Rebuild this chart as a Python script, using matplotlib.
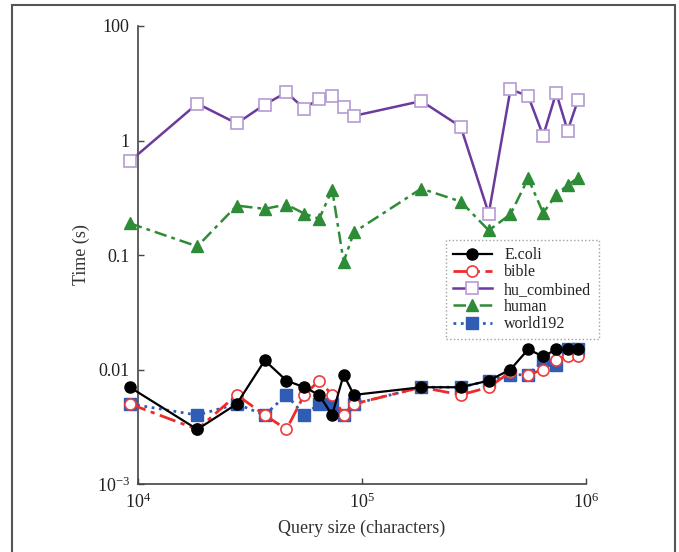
import matplotlib
matplotlib.use("Agg")
import matplotlib.pyplot as plt
from matplotlib.patches import Rectangle

plt.rcParams['font.family'] = ['Liberation Serif', 'DejaVu Serif']
plt.rcParams['mathtext.fontset'] = 'custom'
plt.rcParams['mathtext.rm'] = 'Liberation Serif'
plt.rcParams['mathtext.it'] = 'Liberation Serif:italic'

query_size = [9200, 18400, 27600, 36800, 46000, 55200, 64400, 73600, 82800, 92000,
              184000, 276000, 368000, 460000, 552000, 644000, 736000, 828000, 920000]

ecoli = [0.007, 0.003, 0.005, 0.012, 0.008, 0.007, 0.006, 0.004, 0.009, 0.006,
         0.007, 0.007, 0.008, 0.010, 0.015, 0.013, 0.015, 0.015, 0.015]
bible = [0.005, 0.003, 0.006, 0.004, 0.003, 0.006, 0.008, 0.006, 0.004, 0.005,
         0.007, 0.006, 0.007, 0.0095, 0.009, 0.010, 0.012, 0.013, 0.013]
hu_combined = [0.66, 2.10, 1.41, 2.06, 2.63, 1.90, 2.32, 2.45, 1.96, 1.64,
               2.21, 1.32, 0.23, 2.79, 2.45, 1.10, 2.61, 1.22, 2.24]
human = [0.189, 0.119, 0.270, 0.253, 0.276, 0.230, 0.207, 0.373, 0.087, 0.158,
         0.380, 0.293, 0.164, 0.227, 0.467, 0.233, 0.334, 0.409, 0.470]
world192 = [0.005, 0.004, 0.005, 0.004, 0.006, 0.004, 0.005, 0.005, 0.004, 0.005,
            0.007, 0.007, 0.008, 0.009, 0.009, 0.012, 0.011, 0.015, 0.015]

y_ticks = [1e-3, 1e-2, 1e-1, 1, 10]
y_tick_labels = ['10$^{-3}$', '0.01', '0.1', '1', '100']
x_ticks = [1e4, 1e5, 1e6]
x_tick_labels = ['10$^{4}$', '10$^{5}$', '10$^{6}$']

fig = plt.figure(figsize=(6.79, 5.52), dpi=100)
ax = fig.add_axes([138/679, (552-484)/552, (586-138)/679, (484-26)/552])

ax.plot(query_size, world192, linestyle=':', color='#2f5db5', lw=2,
        marker='s', ms=8, mfc='#2f5db5', mec='#2f5db5', label='world192', clip_on=False, zorder=3)
ax.plot(query_size, bible, linestyle=(0, (6, 2, 1.5, 2)), color='#ee2b2b', lw=2,
        marker='o', ms=8, mfc='white', mec='#ee3b3b', mew=1.2, label='bible', clip_on=False, zorder=4)
ax.plot(query_size, ecoli, linestyle='-', color='black', lw=1.6,
        marker='o', ms=8, mfc='black', mec='black', label='E.coli', clip_on=False, zorder=5)
ax.plot(query_size, human, linestyle=(0, (5, 2, 1.5, 2)), color='#2e8b36', lw=1.8,
        marker='^', ms=8, mfc='#2e8b36', mec='#2e8b36', label='human', clip_on=False, zorder=3)
ax.plot(query_size, hu_combined, linestyle='-', color='#6a3a9c', lw=1.8,
        marker='s', ms=9, mfc='white', mec='#b59bd3', mew=1.2, label='hu_combined', clip_on=False, zorder=4)

ax.set_xscale('log')
ax.set_yscale('log')
ax.set_xlim(1e4, 1e6)
ax.set_ylim(1e-3, 10)
ax.set_xticks(x_ticks)
ax.set_xticklabels(x_tick_labels)
ax.set_yticks(y_ticks)
ax.set_yticklabels(y_tick_labels)
ax.minorticks_off()
ax.tick_params(direction='in', length=4, width=1, colors='#444444', labelcolor='#222222',
               labelsize=13, pad=6)
for s in ['top', 'right']:
    ax.spines[s].set_visible(False)
for s in ['left', 'bottom']:
    ax.spines[s].set_color('#444444')
    ax.spines[s].set_linewidth(1.2)

ax.set_xlabel('Query size (characters)', fontsize=13, color='#333333', labelpad=6)
ax.set_ylabel('Time (s)', fontsize=13, color='#333333', labelpad=5)

handles, labels = ax.get_legend_handles_labels()
order = ['E.coli', 'bible', 'hu_combined', 'human', 'world192']
hd = dict(zip(labels, handles))
leg = ax.legend([hd[k] for k in order], order, loc='upper left',
                bbox_to_anchor=((446-138)/448, (484-240)/458), frameon=True,
                fancybox=False, fontsize=11.5, handlelength=2.4, borderpad=0.45,
                labelspacing=0.08, handletextpad=0.8, borderaxespad=0,
                labelcolor='#222222')
leg.get_frame().set_edgecolor('#888888')
leg.get_frame().set_linestyle(':')
leg.get_frame().set_linewidth(1)

fig.patches.append(Rectangle((12/679, -0.02), (675-12)/679, (552-5)/552 + 0.02,
                             transform=fig.transFigure, fill=False,
                             edgecolor='#555555', lw=1.5))

fig.savefig('out.png', dpi=100)
